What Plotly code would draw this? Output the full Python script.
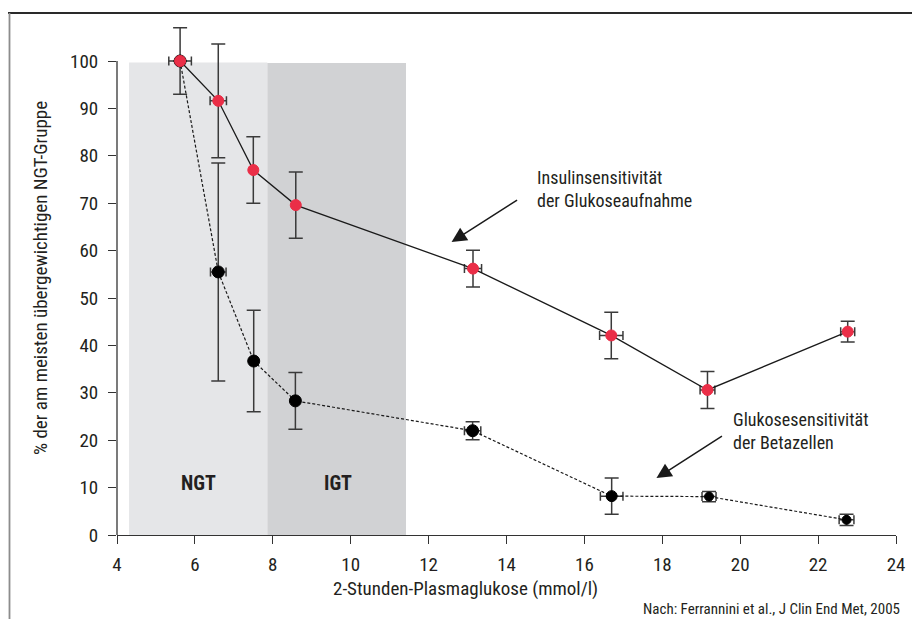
import plotly.graph_objects as go

# ---- data ----
glucose_x = [5.62, 6.60, 7.50, 8.59, 13.14, 16.69, 19.16, 22.76]
insulin_sens = [100, 91.6, 77.0, 69.6, 56.2, 42.1, 30.6, 42.9]
insulin_err_y = [7.0, 12.0, 7.0, 7.0, 3.9, 4.9, 3.9, 2.2]
insulin_err_x = [0.29, 0.21, 0.0, 0.0, 0.22, 0.30, 0.19, 0.18]

beta_x = [5.62, 6.60, 7.51, 8.58, 13.13, 16.70, 19.20, 22.73]
beta_sens = [100, 55.5, 36.7, 28.3, 22.0, 8.2, 8.1, 3.2]
beta_err_y = [0.0, 23.0, 10.7, 6.0, 1.9, 3.8, 1.1, 1.2]
beta_err_x = [0.0, 0.20, 0.0, 0.0, 0.21, 0.29, 0.18, 0.19]

regions = ["NGT", "IGT"]
region_x0 = [4.31, 7.86]
region_x1 = [7.86, 11.42]
region_top = [99.7, 99.6]
region_label_x = [6.1, 9.68]
region_label_y = [11.0, 11.0]

x_ticks = [4, 6, 8, 10, 12, 14, 16, 18, 20, 22, 24]
y_ticks = [0, 10, 20, 30, 40, 50, 60, 70, 80, 90, 100]

FONT = "Liberation Sans Narrow, Arial Narrow, Roboto Condensed, Liberation Sans, sans-serif"
TXT = "#231f20"
ERR = "#3a3a3a"
RED = "#ea2e47"

# layout geometry (page adds an 8px body margin)
W, H = 912, 611
ML, MR, MT = 109, 24, 15
PH = 512
MB = H - MT - PH
Y_TOP = PH / 4.74


def px(xr):
    return (xr - 117) / 779


def py(yr):
    return (535 - yr) / PH


fig = go.Figure()

# error bars first (beneath markers)
for xs, ys, ey, ex in [(beta_x, beta_sens, beta_err_y, beta_err_x),
                       (glucose_x, insulin_sens, insulin_err_y, insulin_err_x)]:
    fig.add_trace(go.Scatter(
        x=xs, y=ys, mode="markers",
        marker=dict(size=1, color="rgba(0,0,0,0)"),
        error_y=dict(type="data", array=ey, color=ERR, thickness=1.5, width=7),
        error_x=dict(type="data", array=ex, color=ERR, thickness=1.5, width=4.5),
        cliponaxis=False, showlegend=False, hoverinfo="skip",
    ))

# black / dashed series line
fig.add_trace(go.Scatter(
    x=beta_x, y=beta_sens, mode="lines",
    line=dict(color="#1a1a1a", width=1.2, dash="3px,2px"),
    cliponaxis=False, showlegend=False, hoverinfo="skip",
))
# black markers
fig.add_trace(go.Scatter(
    x=beta_x, y=beta_sens, mode="markers",
    marker=dict(color="#000000", opacity=1, size=[12, 12, 12, 12, 12, 11, 9, 9],
                line=dict(width=1, color="#000000")),
    cliponaxis=False, showlegend=False, hoverinfo="x+y",
))

# red / solid series line
fig.add_trace(go.Scatter(
    x=glucose_x, y=insulin_sens, mode="lines",
    line=dict(color="#1a1a1a", width=1.3),
    cliponaxis=False, showlegend=False, hoverinfo="skip",
))
# red markers
fig.add_trace(go.Scatter(
    x=glucose_x, y=insulin_sens, mode="markers",
    marker=dict(color=RED, size=11, opacity=1, line=dict(width=1, color=RED)),
    cliponaxis=False, showlegend=False, hoverinfo="x+y",
))

shapes = []
fills = ["#e5e6e8", "#d1d2d4"]
for i in range(len(regions)):
    shapes.append(dict(type="rect", xref="x", yref="y", layer="below",
                       x0=region_x0[i], x1=region_x1[i], y0=0, y1=region_top[i],
                       fillcolor=fills[i], line=dict(width=0)))

# y axis line only up to 100
shapes.append(dict(type="line", xref="paper", yref="y", x0=0, x1=0, y0=0, y1=100,
                   line=dict(color="#333", width=1.3)))

# frame lines (outside plot area)
shapes.append(dict(type="line", xref="paper", yref="paper",
                   x0=px(5), x1=px(925), y0=py(13), y1=py(13),
                   line=dict(color="#2a2a2a", width=1.8)))
shapes.append(dict(type="line", xref="paper", yref="paper",
                   x0=px(9.5), x1=px(9.5), y0=py(13), y1=py(625),
                   line=dict(color="#8c8c8c", width=1.8)))

annotations = []
for i in range(len(regions)):
    annotations.append(dict(x=region_label_x[i], y=region_label_y[i], xref="x", yref="y",
                            text="<b>%s</b>" % regions[i], showarrow=False,
                            font=dict(family=FONT, size=20, color=TXT)))

annotations += [
    dict(x=12.59, y=61.8, xref="x", yref="y", ax=67, ay=-43, axref="pixel", ayref="pixel",
         showarrow=True, arrowhead=2, arrowsize=2, arrowwidth=1.5, arrowcolor="#1a1a1a",
         text=""),
    dict(x=17.85, y=12.0, xref="x", yref="y", ax=67, ay=-43, axref="pixel", ayref="pixel",
         showarrow=True, arrowhead=2, arrowsize=2, arrowwidth=1.5, arrowcolor="#1a1a1a",
         text=""),
    dict(x=px(535), y=py(189), xref="paper", yref="paper",
         xanchor="left", yanchor="middle", align="left", showarrow=False,
         text="Insulinsensitivität<br>der Glukoseaufnahme",
         font=dict(family=FONT, size=18, color=TXT)),
    dict(x=px(731), y=py(430.5), xref="paper", yref="paper",
         xanchor="left", yanchor="middle", align="left", showarrow=False,
         text="Glukosesensitivität<br>der Betazellen",
         font=dict(family=FONT, size=18, color=TXT)),
    dict(x=px(465), y=py(588), xref="paper", yref="paper",
         xanchor="center", yanchor="middle", showarrow=False,
         text="2-Stunden-Plasmaglukose (mmol/l)",
         font=dict(family=FONT, size=19, color=TXT)),
    dict(x=px(40), y=py(278), xref="paper", yref="paper",
         xanchor="center", yanchor="middle", showarrow=False, textangle=-90,
         text="% der am meisten übergewichtigen NGT-Gruppe",
         font=dict(family=FONT, size=19, color=TXT)),
    dict(x=px(902), y=py(609), xref="paper", yref="paper",
         xanchor="right", yanchor="middle", showarrow=False,
         text="Nach: Ferrannini et al., J Clin End Met, 2005",
         font=dict(family=FONT, size=15, color=TXT)),
]

fig.update_layout(
    width=W, height=H,
    margin=dict(l=ML, r=MR, t=MT, b=MB),
    paper_bgcolor="white", plot_bgcolor="white",
    shapes=shapes, annotations=annotations,
    font=dict(family=FONT, size=19, color=TXT),
    xaxis=dict(range=[4, 24], tickvals=x_ticks, showgrid=False, zeroline=False,
               showline=True, linecolor="#333", linewidth=1.3,
               ticks="outside", ticklen=8, tickwidth=1.3, tickcolor="#333",
               ticklabelstandoff=4, tickfont=dict(family=FONT, size=19, color=TXT)),
    yaxis=dict(range=[0, Y_TOP], tickvals=y_ticks, showgrid=False, zeroline=False,
               showline=False,
               ticks="outside", ticklen=8, tickwidth=1.3, tickcolor="#333",
               ticklabelstandoff=6, tickfont=dict(family=FONT, size=19, color=TXT)),
)

fig.write_html("out.html")
